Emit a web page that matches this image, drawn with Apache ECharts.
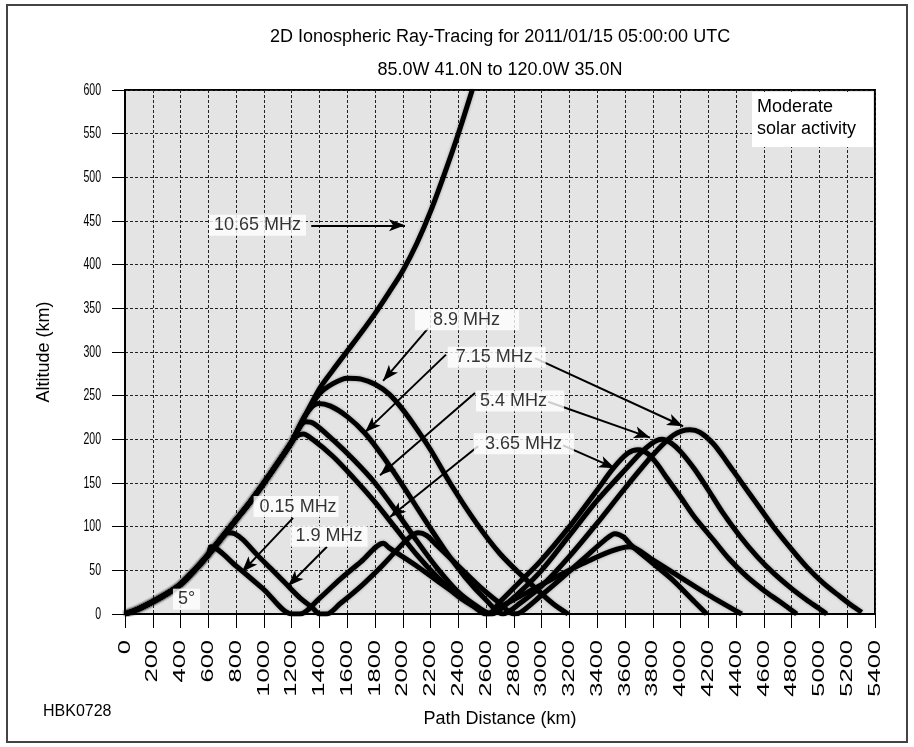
<!DOCTYPE html>
<html>
<head>
<meta charset="utf-8">
<script src="https://cdn.jsdelivr.net/npm/echarts@6/dist/echarts.min.js"></script>
<style>
  html, body { margin: 0; padding: 0; background: #fff; }
  #chart { width: 914px; height: 747px; }
</style>
</head>
<body>
<div id="chart"></div>
<script>
// Axis ranges (km): [min, max, step]
const xRange = [0, 5400, 200];
const yRange = [0, 600, 50];
// Tick label values
const xTickLabels = [0,200,400,600,800,1000,1200,1400,1600,1800,2000,2200,2400,2600,2800,3000,3200,3400,3600,3800,4000,4200,4400,4600,4800,5000,5200,5400];
const yTickLabels = [0,50,100,150,200,250,300,350,400,450,500,550,600];

// Shared 5 degree launch segment of every ray
const launch = [[0,0],[100,6],[200,14],[300,23],[400,34],[500,50],[600,68],[700,88],[800,108],[900,128],[1000,150],[1100,173],[1200,197]];

// Ray paths, [distance km, altitude km]
const ray1065 = [[1300,228],[1400,258],[1500,280],[1600,301],[1700,322],[1800,344],[1900,368],[2000,393],[2100,424],[2200,461],[2300,504],[2400,550],[2500,600]];
const ray89 = [[1300,228],[1400,252],[1500,264],[1600,270],[1700,269],[1800,263],[1900,252],[2000,234],[2100,212],[2200,188],[2340,150],[2530,104],[2700,69],[2890,39],[3080,12],[3190,0]];
const ray715 = [[1300,228],[1390,241],[1480,238],[1600,226],[1728,207],[1850,182],[2000,147],[2150,110],[2300,74],[2450,42],[2600,16],[2720,0],[2850,13],[3000,32],[3200,66],[3400,104],[3600,144],[3800,182],[3950,205],[4068,211],[4140,208],[4236,195],[4330,175],[4428,153],[4550,126],[4668,100],[4800,74],[4908,54],[5030,35],[5148,20],[5230,10],[5304,2]];
const ray54 = [[1250,212],[1300,220],[1360,218],[1500,199],[1650,176],[1800,150],[1950,118],[2100,84],[2250,52],[2400,25],[2550,7],[2640,0],[2750,12],[2988,48],[3200,90],[3400,130],[3600,165],[3750,190],[3864,200],[3930,196],[4000,186],[4100,166],[4200,142],[4300,117],[4428,89],[4550,66],[4668,47],[4800,29],[4908,16],[5000,6],[5052,0]];
const ray365 = [[1230,203],[1284,206],[1350,200],[1500,180],[1650,155],[1800,128],[1950,98],[2100,68],[2250,42],[2400,20],[2550,5],[2620,0],[2700,14],[2800,30],[2988,60],[3200,100],[3400,142],[3516,167],[3620,184],[3696,188],[3760,184],[3830,172],[3900,156],[4000,134],[4100,111],[4236,85],[4350,63],[4476,43],[4600,27],[4716,14],[4836,0]];
const ray19 = [[740,93],[790,92],[850,85],[950,68],[1050,52],[1150,36],[1250,20],[1350,7],[1404,0],[1452,0],[1550,12],[1700,32],[1850,55],[1950,72],[2050,88],[2112,93],[2170,90],[2250,78],[2400,55],[2550,32],[2700,12],[2800,0],[2850,2],[2988,20],[3150,42],[3300,63],[3450,84],[3528,92],[3590,88],[3650,78],[3800,58],[3950,38],[4100,14],[4188,0]];
const ray015 = [[620,77],[800,55],[1000,28],[1200,0],[1260,0],[1400,18],[1550,40],[1700,60],[1860,81],[1900,76],[2100,55],[2300,32],[2500,10],[2600,0],[2700,8],[2900,25],[3100,42],[3300,58],[3500,72],[3636,77],[3800,62],[4000,42],[4200,22],[4440,0]];

// Frequency captions: [text, distance, altitude]
const captions = [
  ['10.65 MHz', 954, 445],
  ['8.9 MHz', 2462, 337],
  ['7.15 MHz', 2676, 294],
  ['5.4 MHz', 2844, 244],
  ['3.65 MHz', 2872, 195],
  ['0.15 MHz', 1232, 123],
  ['1.9 MHz', 1469, 89],
  ['5°', 443, 17]
];

// White box margins around each caption: [top, right, bottom, left] in px
const captionPadding = {
  '10.65 MHz': [2, 5, 1, 5],
  '8.9 MHz': [2, 19, 1, 18],
  '7.15 MHz': [2, 13, 1, 8],
  '5.4 MHz': [2, 17, 1, 4],
  '3.65 MHz': [2, 12, 1, 11],
  '0.15 MHz': [2, 2, 1, 6],
  '1.9 MHz': [2, 5, 1, 5],
  '5°': [2, 5, 1, 5]
};

// Pointer arrows: [from distance, from altitude, to distance, to altitude]
const pointers = [
  [1341, 445, 2016, 445],
  [2182, 327, 1858, 267],
  [2311, 297, 1728, 208],
  [2952, 293, 4018, 215],
  [2520, 253, 1836, 159],
  [3046, 243, 3780, 202],
  [2542, 192, 1908, 111],
  [3154, 193, 3528, 167],
  [1210, 110, 842, 48],
  [1454, 77, 1174, 32]
];

const FONT = '"Liberation Sans", Arial, Helvetica, sans-serif';

function withLaunch(tail) {
  const head = launch.filter(p => p[0] < tail[0][0]);
  return head.concat(tail);
}

const rays = [ray1065, ray89, ray715, ray54, ray365, ray19, ray015];

const chart = echarts.init(document.getElementById('chart'), null, { renderer: 'canvas' });

const raySeries = rays.map(r => ({
  type: 'line',
  data: withLaunch(r),
  showSymbol: false,
  smooth: 0.3,
  clip: true,
  lineStyle: { color: '#000', width: 5, shadowColor: 'rgba(0,0,0,0.35)', shadowBlur: 3 },
  z: 3
}));

// Tick labels: tall, stretched digits under the distance axis
const xLabelSeries = {
  type: 'custom', silent: true, clip: false, z: 5,
  data: xTickLabels.map(v => [v, 0]),
  renderItem: (params, api) => {
    const p = api.coord([api.value(0), 0]);
    return {
      type: 'text', x: p[0], y: p[1] + 26, rotation: Math.PI / 2, scaleX: 1.5,
      style: { text: String(api.value(0)), font: '17px ' + FONT, fill: '#000',
               align: 'right', verticalAlign: 'middle', textAlign: 'right', textVerticalAlign: 'middle' }
    };
  }
};
// Tick labels: narrow digits beside the altitude axis
const yLabelSeries = {
  type: 'custom', silent: true, clip: false, z: 5,
  data: yTickLabels.map(v => [0, v]),
  renderItem: (params, api) => {
    const p = api.coord([0, api.value(1)]);
    return {
      type: 'text', x: p[0] - 24, y: p[1], scaleX: 0.62,
      style: { text: String(api.value(1)), font: '17px ' + FONT, fill: '#000',
               align: 'right', verticalAlign: 'middle', textAlign: 'right', textVerticalAlign: 'middle' }
    };
  }
};

chart.setOption({
  animation: false,
  backgroundColor: '#fff',
  grid: { left: 125, right: 39, top: 90, bottom: 133, show: true, backgroundColor: '#e4e4e4', borderColor: '#000', borderWidth: 2 },
  xAxis: {
    type: 'value', min: xRange[0], max: xRange[1], interval: xRange[2],
    name: 'Path Distance (km)', nameLocation: 'middle', nameGap: 96,
    nameTextStyle: { fontFamily: FONT, fontSize: 18, color: '#000' },
    axisLine: { show: true, lineStyle: { color: '#000', width: 2 } },
    axisTick: { show: true, length: 14, lineStyle: { color: '#000', width: 1 } },
    axisLabel: { show: false },
    splitLine: { show: true, lineStyle: { color: '#222', width: 1, type: [3, 2] } }
  },
  yAxis: {
    type: 'value', min: yRange[0], max: yRange[1], interval: yRange[2],
    name: 'Altitude (km)', nameLocation: 'middle', nameGap: 72,
    nameTextStyle: { fontFamily: FONT, fontSize: 18, color: '#000' },
    axisLine: { show: true, lineStyle: { color: '#000', width: 2 } },
    axisTick: { show: true, length: 13, lineStyle: { color: '#000', width: 1 } },
    axisLabel: { show: false },
    splitLine: { show: true, lineStyle: { color: '#222', width: 1, type: [3, 2] } }
  },
  graphic: [
    { type: 'rect', shape: { x: 7, y: 5, width: 900, height: 737 }, style: { fill: 'none', stroke: '#444', lineWidth: 2 }, z: 100 },
    { type: 'text', x: 500, y: 37, z: 51,
      style: { text: '2D Ionospheric Ray-Tracing for 2011/01/15 05:00:00 UTC', font: '18px ' + FONT, fill: '#000', textAlign: 'center', textVerticalAlign: 'middle' } },
    { type: 'text', x: 500, y: 70, z: 51,
      style: { text: '85.0W 41.0N to 120.0W 35.0N', font: '18px ' + FONT, fill: '#000', textAlign: 'center', textVerticalAlign: 'middle' } },
    { type: 'rect', shape: { x: 752, y: 92, width: 121, height: 55 }, style: { fill: '#fff' }, z: 50 },
    { type: 'text', left: 757, top: 96, z: 51,
      style: { text: 'Moderate\nsolar activity', font: '18px ' + FONT, fill: '#000', lineHeight: 22 } },
    { type: 'text', left: 43, top: 704, z: 51,
      style: { text: 'HBK0728', font: '16px ' + FONT, fill: '#000' } }
  ],
  series: raySeries.concat([xLabelSeries, yLabelSeries, {
    type: 'scatter',
    data: captions.map(c => ({ value: [c[1], c[2]], name: c[0], label: { padding: captionPadding[c[0]] } })),
    symbolSize: 0,
    z: 10,
    label: {
      show: true, position: 'inside', formatter: p => p.name,
      fontFamily: FONT, fontSize: 18, color: '#000', backgroundColor: '#fff', padding: [2, 5, 1, 5]
    },
    markLine: {
      silent: true, symbol: ['none', 'arrow'], symbolSize: [9, 16], z: 9,
      lineStyle: { color: '#000', width: 2, type: 'solid' },
      label: { show: false },
      data: pointers.map(a => [{ coord: [a[0], a[1]] }, { coord: [a[2], a[3]] }])
    }
  }])
});
</script>
</body>
</html>
